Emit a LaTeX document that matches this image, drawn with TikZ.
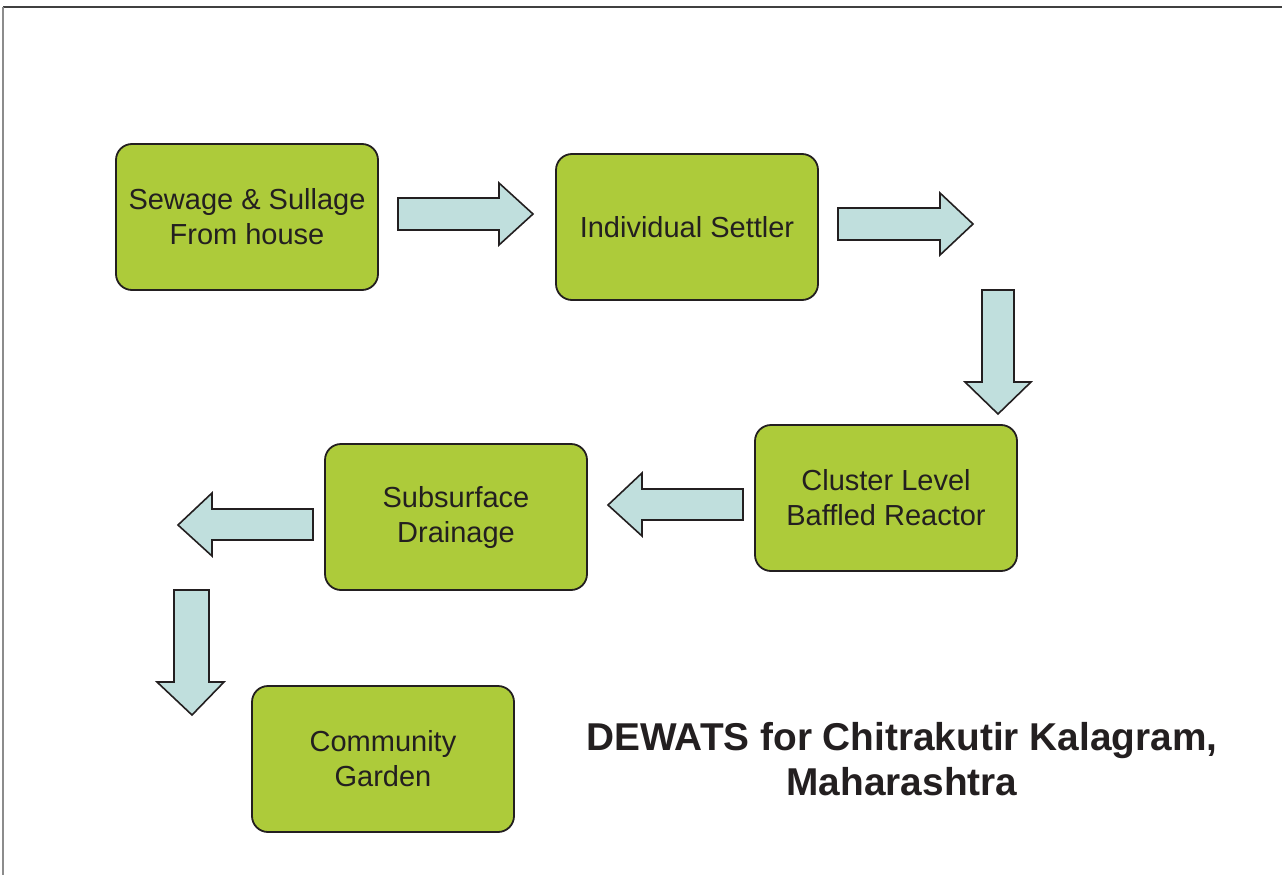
\documentclass[tikz,border=0pt]{standalone}
\usepackage{fontspec}
\setmainfont{Liberation Sans}
\definecolor{boxgreen}{HTML}{ADCB3A}
\definecolor{arrowfill}{HTML}{C0DFDD}
\definecolor{ink}{HTML}{231F20}
\begin{document}
\begin{tikzpicture}[x=1pt,y=-1pt,
  stage/.style={rectangle, rounded corners=16pt, draw=ink, line width=1.8pt, fill=boxgreen,
    minimum width=262pt, minimum height=146pt, align=center, text=ink, inner sep=0pt,
    font=\fontsize{29}{35}\selectfont},
  blockarrow/.style={draw=ink, line width=1.6pt, fill=arrowfill, line join=miter},
  frame/.style={line width=1.5pt}]
\useasboundingbox (0,0) rectangle (1282,875);
% page border
\draw[frame, draw=black!75] (3,7) -- (1282,7);
\draw[frame, draw=black!45, line width=2pt] (3,7) -- (3,875);

\node[stage] (sew) at (247,217) {Sewage \& Sullage\\From house};
\node[stage] (set) at (687,227) {Individual Settler};
\node[stage] (clu) at (886,498) {Cluster Level\\Baffled Reactor};
\node[stage] (sub) at (456,517) {Subsurface\\Drainage};
\node[stage] (com) at (383,759) {Community\\Garden};

% block arrows
\draw[blockarrow] (398,198) -- (499,198) -- (499,183) -- (533,214) -- (499,245) -- (499,230) -- (398,230) -- cycle;
\draw[blockarrow] (838,208) -- (940,208) -- (940,193) -- (973,224) -- (940,255) -- (940,240) -- (838,240) -- cycle;
\draw[blockarrow] (982,290) -- (1014,290) -- (1014,382) -- (1031,382) -- (998,414) -- (965,382) -- (982,382) -- cycle;
\draw[blockarrow] (743,489) -- (642,489) -- (642,473) -- (608,505) -- (642,536) -- (642,520) -- (743,520) -- cycle;
\draw[blockarrow] (313,509) -- (212,509) -- (212,493) -- (178,525) -- (212,556) -- (212,540) -- (313,540) -- cycle;
\draw[blockarrow] (174,590) -- (209,590) -- (209,682) -- (224,682) -- (192,715) -- (157,682) -- (174,682) -- cycle;

\node[align=center, text=ink, font=\bfseries\fontsize{38.8}{45.5}\selectfont] (title) at (902,759)
  {DEWATS for Chitrakutir Kalagram,\\Maharashtra};
\end{tikzpicture}
\end{document}
